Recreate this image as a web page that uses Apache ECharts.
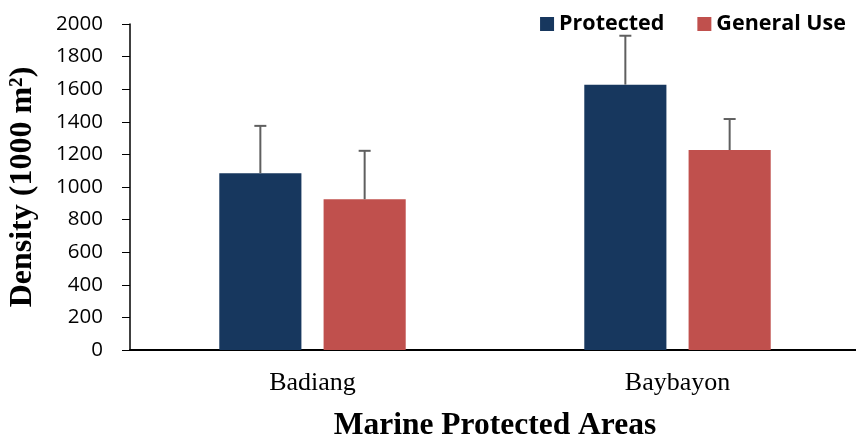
<!DOCTYPE html>
<html><head><meta charset="utf-8">
<script src="https://cdn.jsdelivr.net/npm/echarts@6/dist/echarts.min.js"></script>
<style>html,body{margin:0;padding:0;background:#fff}#c{width:856px;height:439px}</style>
</head><body><div id="c"></div>
<script>
const categories = ['Badiang', 'Baybayon'];
const protectedVals = [1085, 1628];
const protectedErr = [290, 300];
const generalVals = [925, 1227];
const generalErr = [297, 190];
const seriesNames = ['Protected', 'General Use'];
const colors = ['#17375E', '#C0504D'];

const chart = echarts.init(document.getElementById('c'));
const BW = 0.225, GAP = 0.27;
function errSeries(vals, errs, sign) {
  return {
    type: 'custom',
    silent: true,
    z: 5,
    data: vals.map((v, i) => [i, v, v + errs[i]]),
    renderItem: function (params, api) {
      const band = api.size([1, 0])[0];
      const off = sign * (BW / 2 + BW * GAP / 2) * band;
      const p0 = api.coord([api.value(0), api.value(1)]);
      const p1 = api.coord([api.value(0), api.value(2)]);
      const x = p0[0] + off;
      const st = { stroke: '#5f5f5f', lineWidth: 2 };
      return {
        type: 'group',
        children: [
          { type: 'line', shape: { x1: x, y1: p0[1], x2: x, y2: p1[1] }, style: st },
          { type: 'line', shape: { x1: x - 6, y1: p1[1], x2: x + 6, y2: p1[1] }, style: st }
        ]
      };
    }
  };
}
chart.setOption({
  animation: false,
  grid: { left: 130, right: -4, top: 24, bottom: 89, containLabel: false, outerBoundsMode: 'none' },
  legend: {
    data: seriesNames,
    top: 8, right: 5,
    icon: 'rect', itemWidth: 14, itemHeight: 14, itemGap: 33,
    textStyle: { fontFamily: 'Open Sans', fontWeight: 'bold', fontSize: 21.5, color: '#000', padding: [0, 0, 0, 0] }
  },
  xAxis: {
    type: 'category', data: categories,
    axisLine: { lineStyle: { color: '#000', width: 2 } },
    axisTick: { show: false },
    axisLabel: { fontFamily: 'Liberation Serif', fontSize: 26, color: '#000', margin: 20 },
    name: 'Marine Protected Areas', nameLocation: 'middle', nameGap: 60,
    nameTextStyle: { fontFamily: 'Liberation Serif', fontWeight: 'bold', fontSize: 31.5, color: '#000' }
  },
  yAxis: {
    type: 'value', min: 0, max: 2000, interval: 200,
    axisLine: { show: true, lineStyle: { color: '#000', width: 1.5 } },
    axisTick: { show: true, length: 8, lineStyle: { color: '#000' } },
    splitLine: { show: false },
    axisLabel: { fontFamily: 'Open Sans', fontSize: 20.5, color: '#000', margin: 27, formatter: v => String(v) },
    name: 'Density (1000 m²)', nameLocation: 'middle', nameGap: 91,
    nameTextStyle: { fontFamily: 'Liberation Serif', fontWeight: 'bold', fontSize: 32, color: '#000' }
  },
  series: [
    { name: seriesNames[0], type: 'bar', data: protectedVals, barWidth: '22.5%', barGap: '27%', itemStyle: { color: colors[0] } },
    { name: seriesNames[1], type: 'bar', data: generalVals, barWidth: '22.5%', barGap: '27%', itemStyle: { color: colors[1] } },
    errSeries(protectedVals, protectedErr, -1),
    errSeries(generalVals, generalErr, 1)
  ]
});
</script></body></html>
